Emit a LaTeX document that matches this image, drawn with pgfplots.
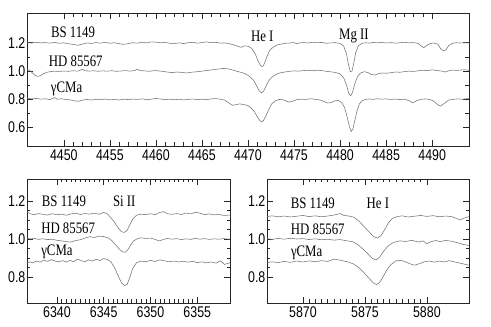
\documentclass[border=0pt]{standalone}
\usepackage{fontspec}
\setmainfont{Liberation Serif}
\setsansfont{Liberation Sans}
\usepackage{pgfplots}
\pgfplotsset{compat=1.18}

\pgfplotsset{
  spec/.style={
    scale only axis,
    anchor=south west,
    axis line style={black!85,line width=0.8pt},
    tick align=inside,
    tick style={black!85,line width=0.6pt},
    major tick length=6pt,
    minor tick length=3.5pt,
    xtick pos=both,
    tick label style={font=\sffamily\fontsize{15.5}{15.5}\selectfont, xscale=0.8},
    /pgf/number format/assume math mode=true,
    xticklabel style={/pgf/number format/1000 sep={}, yshift=-0.5pt},
    yticklabel style={/pgf/number format/fixed, /pgf/number format/fixed zerofill, /pgf/number format/precision=1, xshift=1.5pt},
    cycle list={black!55,line width=0.55pt,mark=none\\},
  },
}
\tikzset{lab/.style={font=\fontsize{16}{16}\selectfont, xscale=0.8, inner sep=0pt}}

\begin{document}
\begin{tikzpicture}
\useasboundingbox (0,0) rectangle (491pt,327pt);

% top panel: He I 4471, Mg II 4481
\begin{axis}[spec,
  at={(27pt,181pt)}, width=442pt, height=133pt,
  xmin=4446, xmax=4494, ymin=0.47, ymax=1.41,
  xtick={4450,4455,...,4490}, minor x tick num=4,
  ytick={0.6,0.8,1.0,1.2}, minor y tick num=1,
  ytick pos=both, yticklabel pos=left,
]
\addplot coordinates {
(4446.0,1.200) (4446.5,1.198) (4447.0,1.203) (4447.5,1.199) (4448.0,1.201) (4448.5,1.197)
(4449.0,1.202) (4449.5,1.196) (4450.0,1.199) (4450.5,1.193) (4451.0,1.188) (4451.5,1.182)
(4452.0,1.190) (4452.5,1.198) (4453.0,1.195) (4453.5,1.201) (4454.0,1.197) (4454.5,1.203)
(4455.0,1.196) (4455.5,1.200) (4456.0,1.193) (4456.5,1.188) (4457.0,1.194) (4457.5,1.200)
(4458.0,1.197) (4458.5,1.203) (4459.0,1.199) (4459.5,1.206) (4460.0,1.204) (4460.5,1.199)
(4461.0,1.203) (4461.5,1.196) (4462.0,1.193) (4462.5,1.199) (4463.0,1.194) (4463.5,1.200)
(4464.0,1.203) (4464.5,1.197) (4465.0,1.201) (4465.5,1.206) (4466.0,1.200) (4466.5,1.203)
(4467.0,1.197) (4467.5,1.199) (4468.0,1.192) (4468.5,1.184) (4469.0,1.172) (4469.3,1.168)
(4469.6,1.178) (4470.0,1.175) (4470.4,1.160) (4470.8,1.120) (4471.1,1.070) (4471.4,1.035)
(4471.6,1.032) (4471.8,1.055) (4472.1,1.110) (4472.4,1.150) (4472.8,1.172) (4473.2,1.185)
(4473.6,1.190) (4474.0,1.196) (4474.5,1.198) (4475.0,1.201) (4475.3,1.192) (4475.6,1.199)
(4476.0,1.201) (4476.5,1.198) (4477.0,1.203) (4477.5,1.200) (4478.0,1.202) (4478.5,1.196)
(4479.0,1.199) (4479.5,1.200) (4480.0,1.195) (4480.4,1.175) (4480.7,1.120) (4480.9,1.050)
(4481.1,0.995) (4481.3,1.000) (4481.5,1.060) (4481.7,1.130) (4482.0,1.180) (4482.4,1.196)
(4482.8,1.200) (4483.2,1.197) (4483.6,1.202) (4484.0,1.199) (4484.5,1.203) (4485.0,1.198)
(4485.5,1.201) (4486.0,1.197) (4486.5,1.200) (4487.0,1.203) (4487.5,1.199) (4488.0,1.201)
(4488.5,1.195) (4488.8,1.178) (4489.1,1.165) (4489.4,1.180) (4489.8,1.195) (4490.2,1.198)
(4490.6,1.190) (4490.9,1.160) (4491.2,1.142) (4491.5,1.150) (4491.8,1.180) (4492.2,1.195)
(4492.6,1.200) (4493.0,1.198) (4493.5,1.200) (4494.0,1.199)
};
\addplot coordinates {
(4446.0,1.010) (4446.3,1.005) (4446.6,0.985) (4446.9,0.968) (4447.2,0.962) (4447.5,0.968)
(4447.8,0.982) (4448.2,0.992) (4448.6,0.996) (4449.0,0.999) (4449.5,0.997) (4450.0,1.000)
(4450.5,0.998) (4451.0,1.002) (4451.5,0.999) (4452.0,1.012) (4452.3,1.003) (4452.7,0.999)
(4453.2,1.002) (4453.7,0.998) (4454.2,1.001) (4454.7,0.999) (4455.2,1.002) (4455.7,0.998)
(4456.2,1.000) (4456.7,1.003) (4457.2,0.999) (4457.7,1.004) (4458.0,1.012) (4458.3,1.003)
(4458.8,1.001) (4459.3,0.998) (4459.8,1.003) (4460.3,1.001) (4460.8,0.997) (4461.3,0.992)
(4461.8,0.989) (4462.3,0.993) (4462.8,0.990) (4463.3,0.986) (4463.8,0.991) (4464.3,0.994)
(4464.8,0.997) (4465.3,1.002) (4465.8,1.006) (4466.3,1.010) (4466.8,1.014) (4467.3,1.018)
(4467.8,1.016) (4468.3,1.008) (4468.8,0.998) (4469.3,0.990) (4469.8,0.978) (4470.2,0.960)
(4470.6,0.935) (4470.9,0.900) (4471.2,0.862) (4471.45,0.845) (4471.7,0.858) (4472.0,0.900)
(4472.3,0.935) (4472.7,0.962) (4473.1,0.978) (4473.5,0.987) (4474.0,0.993) (4474.5,0.998)
(4475.0,1.001) (4475.5,0.999) (4476.0,1.003) (4476.5,1.005) (4477.0,1.002) (4477.5,1.006)
(4478.0,1.003) (4478.5,0.998) (4479.0,0.994) (4479.5,0.990) (4480.0,0.980) (4480.4,0.950)
(4480.7,0.900) (4480.95,0.840) (4481.15,0.825) (4481.35,0.850) (4481.6,0.910) (4481.9,0.960)
(4482.2,0.985) (4482.6,0.995) (4483.0,0.990) (4483.4,0.975) (4483.8,0.972) (4484.2,0.982)
(4484.6,0.986) (4485.0,0.984) (4485.5,0.988) (4486.0,0.993) (4486.5,0.991) (4487.0,0.996)
(4487.5,0.999) (4488.0,0.997) (4488.5,1.002) (4489.0,1.005) (4489.5,1.003) (4490.0,1.008)
(4490.5,1.004) (4491.0,1.000) (4491.4,0.993) (4491.8,1.002) (4492.2,1.007) (4492.6,1.004)
(4493.0,1.006) (4493.5,1.009) (4494.0,1.005)
};
\addplot coordinates {
(4446.0,0.808) (4446.5,0.803) (4447.0,0.806) (4447.5,0.801) (4448.0,0.804) (4448.5,0.798)
(4449.0,0.812) (4449.3,0.800) (4449.7,0.804) (4450.2,0.799) (4450.7,0.796) (4451.2,0.789)
(4451.6,0.786) (4452.0,0.794) (4452.5,0.799) (4453.0,0.795) (4453.5,0.801) (4454.0,0.797)
(4454.5,0.802) (4455.0,0.796) (4455.5,0.800) (4456.0,0.795) (4456.5,0.801) (4457.0,0.798)
(4457.5,0.802) (4458.0,0.799) (4458.5,0.803) (4459.0,0.797) (4459.5,0.801) (4460.0,0.806)
(4460.5,0.802) (4461.0,0.798) (4461.5,0.801) (4462.0,0.797) (4462.5,0.800) (4463.0,0.796)
(4463.5,0.799) (4464.0,0.802) (4464.5,0.798) (4465.0,0.801) (4465.5,0.797) (4466.0,0.803)
(4466.5,0.805) (4467.0,0.801) (4467.5,0.793) (4467.9,0.775) (4468.3,0.758) (4468.7,0.762)
(4469.1,0.768) (4469.5,0.763) (4469.9,0.758) (4470.3,0.742) (4470.7,0.712) (4471.0,0.678)
(4471.3,0.648) (4471.5,0.640) (4471.7,0.652) (4472.0,0.690) (4472.3,0.735) (4472.6,0.770)
(4473.0,0.790) (4473.4,0.799) (4473.8,0.797) (4474.2,0.786) (4474.5,0.780) (4474.9,0.788)
(4475.3,0.798) (4475.8,0.801) (4476.3,0.799) (4476.8,0.804) (4477.3,0.800) (4477.8,0.795)
(4478.2,0.786) (4478.6,0.774) (4479.0,0.776) (4479.4,0.789) (4479.8,0.792) (4480.2,0.775)
(4480.5,0.740) (4480.75,0.680) (4481.0,0.610) (4481.2,0.572) (4481.4,0.590) (4481.6,0.650)
(4481.85,0.720) (4482.1,0.768) (4482.4,0.790) (4482.8,0.800) (4483.2,0.803) (4483.6,0.799)
(4484.0,0.804) (4484.5,0.801) (4485.0,0.803) (4485.5,0.799) (4486.0,0.802) (4486.5,0.798)
(4487.0,0.801) (4487.5,0.790) (4487.9,0.775) (4488.3,0.790) (4488.8,0.800) (4489.3,0.803)
(4489.8,0.798) (4490.2,0.785) (4490.6,0.762) (4490.9,0.752) (4491.3,0.770) (4491.8,0.795)
(4492.3,0.800) (4492.8,0.803) (4493.3,0.800) (4493.8,0.805) (4494.0,0.804)
};
\node[lab] at (axis cs:4451.0,1.275) {BS 1149};
\node[lab] at (axis cs:4451.3,1.070) {HD 85567};
\node[lab] at (axis cs:4450.3,0.873) {γCMa};
\node[lab] at (axis cs:4471.55,1.246) {He I};
\node[lab] at (axis cs:4481.5,1.246) {Mg II};
\end{axis}

% bottom left: Si II 6347
\begin{axis}[spec,
  at={(27pt,24pt)}, width=203pt, height=124pt,
  xmin=6336.8, xmax=6358.5, ymin=0.663, ymax=1.316,
  xtick={6340,6345,...,6355}, minor x tick num=9,
  ytick={0.8,1.0,1.2}, minor y tick num=3,
  ytick pos=both, yticklabel pos=left,
]
\addplot coordinates {
(6336.8,1.142) (6337.2,1.132) (6337.6,1.128) (6338.0,1.134) (6338.5,1.130) (6339.0,1.126)
(6339.5,1.133) (6340.0,1.128) (6340.5,1.131) (6341.0,1.125) (6341.5,1.132) (6342.0,1.136)
(6342.5,1.129) (6343.0,1.134) (6343.5,1.131) (6344.0,1.136) (6344.5,1.130) (6345.0,1.140)
(6345.4,1.132) (6345.8,1.110) (6346.2,1.085) (6346.6,1.055) (6346.9,1.038) (6347.2,1.035)
(6347.5,1.045) (6347.8,1.075) (6348.1,1.105) (6348.5,1.125) (6349.0,1.131) (6349.5,1.128)
(6350.0,1.133) (6350.5,1.128) (6351.0,1.140) (6351.4,1.144) (6351.8,1.133) (6352.3,1.130)
(6352.8,1.134) (6353.3,1.129) (6353.8,1.137) (6354.3,1.132) (6354.8,1.141) (6355.3,1.136)
(6355.8,1.128) (6356.3,1.132) (6356.8,1.127) (6357.3,1.130) (6357.8,1.124) (6358.5,1.126)
};
\addplot coordinates {
(6336.8,1.005) (6337.2,1.000) (6337.6,1.003) (6338.0,0.998) (6338.5,1.001) (6339.0,0.997)
(6339.5,0.999) (6340.0,0.993) (6340.5,0.990) (6341.0,0.986) (6341.5,0.984) (6342.0,0.992)
(6342.5,0.996) (6343.0,1.005) (6343.5,1.012) (6344.0,1.008) (6344.5,1.015) (6345.0,1.013)
(6345.5,1.005) (6345.9,0.990) (6346.3,0.968) (6346.7,0.945) (6347.0,0.933) (6347.3,0.930)
(6347.6,0.945) (6347.9,0.970) (6348.2,0.990) (6348.6,1.002) (6349.0,1.006) (6349.5,1.003)
(6350.0,1.005) (6350.5,0.998) (6350.9,0.990) (6351.3,0.996) (6351.8,1.003) (6352.3,0.999)
(6352.8,1.002) (6353.3,0.997) (6353.8,1.001) (6354.3,0.998) (6354.8,1.003) (6355.3,0.999)
(6355.8,1.002) (6356.3,0.998) (6356.8,1.001) (6357.3,0.999) (6357.8,1.002) (6358.5,0.999)
};
\addplot coordinates {
(6336.8,0.872) (6337.1,0.880) (6337.4,0.874) (6337.8,0.884) (6338.2,0.878) (6338.6,0.889)
(6339.0,0.882) (6339.4,0.891) (6339.8,0.884) (6340.2,0.880) (6340.6,0.886) (6341.0,0.879)
(6341.4,0.887) (6341.8,0.881) (6342.2,0.894) (6342.6,0.886) (6343.0,0.880) (6343.4,0.890)
(6343.8,0.884) (6344.2,0.893) (6344.6,0.887) (6345.0,0.897) (6345.4,0.892) (6345.8,0.878)
(6346.2,0.845) (6346.6,0.800) (6346.9,0.770) (6347.2,0.755) (6347.5,0.760) (6347.8,0.800)
(6348.1,0.845) (6348.5,0.875) (6349.0,0.884) (6349.5,0.880) (6350.0,0.887) (6350.5,0.882)
(6351.0,0.890) (6351.5,0.885) (6352.0,0.880) (6352.5,0.884) (6353.0,0.879) (6353.5,0.883)
(6354.0,0.878) (6354.5,0.882) (6355.0,0.876) (6355.5,0.880) (6356.0,0.874) (6356.5,0.879)
(6357.0,0.873) (6357.5,0.885) (6357.9,0.866) (6358.5,0.875)
};
\node[lab] at (axis cs:6340.75,1.200) {BS 1149};
\node[lab] at (axis cs:6341.2,1.058) {HD 85567};
\node[lab] at (axis cs:6340.0,0.930) {γCMa};
\node[lab] at (axis cs:6347.2,1.200) {Si II};
\end{axis}

% bottom right: He I 5876
\begin{axis}[spec,
  at={(267pt,24pt)}, width=202pt, height=124pt,
  xmin=5867.1, xmax=5883.4, ymin=0.663, ymax=1.316,
  xtick={5870,5875,5880}, minor x tick num=9,
  ytick={0.8,1.0,1.2}, minor y tick num=3,
  ytick pos=both, yticklabel pos=left,
]
\addplot coordinates {
(5867.1,1.118) (5867.5,1.122) (5868.0,1.117) (5868.5,1.121) (5869.0,1.116) (5869.5,1.120)
(5870.0,1.124) (5870.5,1.118) (5871.0,1.122) (5871.5,1.117) (5872.0,1.121) (5872.5,1.126)
(5873.0,1.134) (5873.3,1.124) (5873.7,1.121) (5874.1,1.115) (5874.5,1.095) (5874.9,1.068)
(5875.3,1.040) (5875.7,1.013) (5876.0,1.005) (5876.3,1.018) (5876.6,1.050) (5876.9,1.085)
(5877.2,1.108) (5877.6,1.118) (5878.0,1.122) (5878.5,1.116) (5879.0,1.120) (5879.5,1.124)
(5880.0,1.119) (5880.5,1.123) (5881.0,1.117) (5881.5,1.121) (5882.0,1.118) (5882.4,1.108)
(5882.7,1.100) (5883.0,1.110) (5883.4,1.118)
};
\addplot coordinates {
(5867.1,1.002) (5867.5,0.998) (5868.0,1.003) (5868.5,0.999) (5869.0,1.004) (5869.5,1.000)
(5870.0,1.002) (5870.5,0.997) (5871.0,1.001) (5871.5,0.996) (5872.0,0.999) (5872.5,0.994)
(5873.0,0.997) (5873.5,0.991) (5874.0,0.986) (5874.4,0.972) (5874.8,0.950) (5875.2,0.925)
(5875.6,0.898) (5875.9,0.890) (5876.2,0.905) (5876.5,0.935) (5876.9,0.965) (5877.3,0.982)
(5877.8,0.990) (5878.3,0.987) (5878.8,0.993) (5879.3,0.984) (5879.7,0.990) (5880.0,0.975)
(5880.3,0.985) (5880.7,0.992) (5881.1,0.986) (5881.5,0.993) (5882.0,0.988) (5882.5,0.980)
(5882.9,0.972) (5883.4,0.966)
};
\addplot coordinates {
(5867.1,0.875) (5867.5,0.880) (5868.0,0.876) (5868.5,0.882) (5869.0,0.877) (5869.5,0.884)
(5870.0,0.879) (5870.5,0.885) (5871.0,0.880) (5871.5,0.886) (5872.0,0.882) (5872.5,0.894)
(5872.9,0.890) (5873.3,0.884) (5873.7,0.878) (5874.1,0.868) (5874.5,0.850) (5874.9,0.825)
(5875.3,0.795) (5875.7,0.768) (5875.95,0.760) (5876.2,0.772) (5876.5,0.805) (5876.8,0.840)
(5877.1,0.865) (5877.5,0.885) (5877.9,0.888) (5878.3,0.879) (5878.7,0.868) (5879.0,0.862)
(5879.4,0.870) (5879.8,0.880) (5880.2,0.884) (5880.6,0.878) (5881.0,0.884) (5881.4,0.879)
(5881.8,0.886) (5882.2,0.880) (5882.6,0.874) (5883.0,0.868) (5883.4,0.862)
};
\node[lab] at (axis cs:5870.8,1.190) {BS 1149};
\node[lab] at (axis cs:5871.2,1.050) {HD 85567};
\node[lab] at (axis cs:5870.3,0.928) {γCMa};
\node[lab] at (axis cs:5876.05,1.190) {He I};
\end{axis}
\end{tikzpicture}
\end{document}
